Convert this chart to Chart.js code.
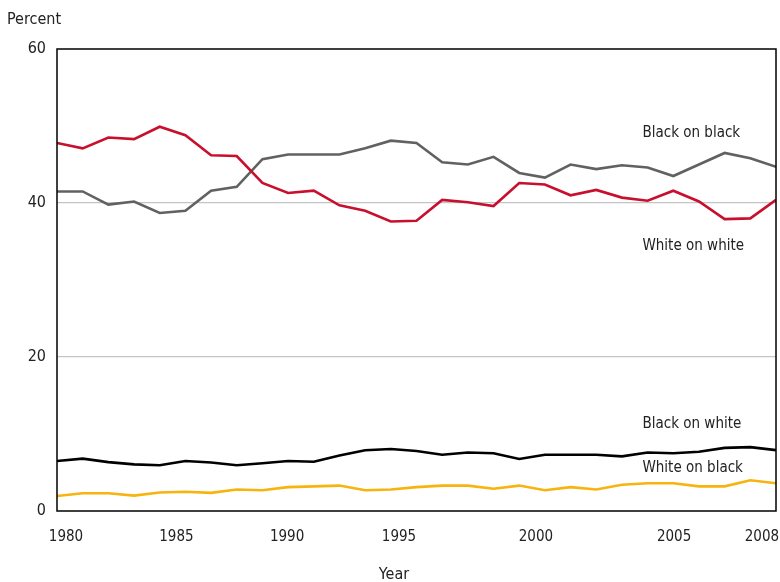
<!DOCTYPE html>
<html lang="en">
<head>
    <meta charset="UTF-8">
    <title>Homicides by race of victim and offender, 1980-2008</title>
    <script src="https://cdn.jsdelivr.net/npm/chart.js"></script>
    <style>
        body {
            margin: 0;
            background: #fff;
        }
        #wrap {
            width: 780px;
            height: 582px;
        }
    </style>
</head>
<body>
<div id="wrap"><canvas id="chart"></canvas></div>

<script>
    // data
    const years = [1980, 1981, 1982, 1983, 1984, 1985, 1986, 1987, 1988, 1989,
                   1990, 1991, 1992, 1993, 1994, 1995, 1996, 1997, 1998, 1999,
                   2000, 2001, 2002, 2003, 2004, 2005, 2006, 2007, 2008];
    const whiteOnWhite = [47.8, 47.1, 48.5, 48.3, 49.9, 48.8, 46.2, 46.1, 42.6, 41.3,
                          41.6, 39.7, 39.0, 37.6, 37.7, 40.4, 40.1, 39.6, 42.6, 42.4,
                          41.0, 41.7, 40.7, 40.3, 41.6, 40.2, 37.9, 38.0, 40.4];
    const blackOnBlack = [41.5, 41.5, 39.8, 40.2, 38.7, 39.0, 41.6, 42.1, 45.7, 46.3,
                          46.3, 46.3, 47.1, 48.1, 47.8, 45.3, 45.0, 46.0, 43.9, 43.3,
                          45.0, 44.4, 44.9, 44.6, 43.5, 45.0, 46.5, 45.8, 44.7];
    const blackOnWhite = [6.5, 6.8, 6.35, 6.05, 5.95, 6.5, 6.3, 5.95, 6.2, 6.5,
                          6.4, 7.2, 7.9, 8.05, 7.8, 7.3, 7.6, 7.5, 6.75, 7.3,
                          7.3, 7.3, 7.1, 7.6, 7.5, 7.7, 8.2, 8.3, 7.9];
    const whiteOnBlack = [1.95, 2.3, 2.3, 2.0, 2.4, 2.5, 2.35, 2.8, 2.7, 3.1,
                          3.2, 3.3, 2.7, 2.8, 3.1, 3.3, 3.3, 2.9, 3.3, 2.7,
                          3.1, 2.8, 3.4, 3.6, 3.6, 3.2, 3.2, 4.0, 3.6];
    const seriesNames = ['White on white', 'Black on black', 'Black on white', 'White on black'];
    const xTickLabels = ['1980', '1985', '1990', '1995', '2000', '2005', '2008'];
    const yTicks = [0, 20, 40, 60];

    // where things sit in the original (labels there are not centred on their year)
    const xTickPos = [1980.35, 1984.65, 1988.96, 1993.32, 1998.65, 2004.03, 2007.45];
    const nameAt = [[2002.8, 34.4], [2002.8, 49.1], [2002.8, 11.3], [2002.8, 5.6]];
    const colors = ['#c8102e', '#616161', '#000000', '#f7b40f'];
    const FONT = '"DejaVu Sans Condensed", "Liberation Sans Narrow", sans-serif';
    const TEXT = '#222';

    function pts(vals) {
        return years.map((yr, i) => ({x: yr, y: vals[i]}));
    }

    const textPlugin = {
        id: 'textPlugin',
        afterDraw(chart) {
            const ctx = chart.ctx;
            const a = chart.chartArea;
            const xs = chart.scales.x, ys = chart.scales.y;
            ctx.save();
            ctx.strokeStyle = '#000';
            ctx.lineWidth = 1.5;
            ctx.strokeRect(a.left, a.top, a.right - a.left, a.bottom - a.top);

            ctx.fillStyle = TEXT;
            ctx.font = '15px ' + FONT;
            ctx.textBaseline = 'middle';
            seriesNames.forEach(function(name, i) {
                ctx.fillText(name, xs.getPixelForValue(nameAt[i][0]), ys.getPixelForValue(nameAt[i][1]));
            });
            ctx.font = '16px ' + FONT;
            ctx.fillText('Percent', 7, 20);
            ctx.textAlign = 'center';
            ctx.fillText('Year', 394, 575);
            ctx.restore();
        }
    };

    const ds = [whiteOnWhite, blackOnBlack, blackOnWhite, whiteOnBlack].map(function(vals, i) {
        return {
            label: seriesNames[i],
            data: pts(vals),
            borderColor: colors[i],
            borderWidth: 2.6,
            pointRadius: 0,
            tension: 0,
            fill: false
        };
    });

    new Chart(document.getElementById('chart'), {
        type: 'line',
        data: {datasets: ds},
        options: {
            responsive: true,
            maintainAspectRatio: false,
            animation: false,
            layout: {padding: {left: 0, top: 49, right: 4, bottom: 0}},
            plugins: {
                legend: {display: false},
                tooltip: {enabled: false}
            },
            scales: {
                x: {
                    type: 'linear',
                    min: 1980,
                    max: 2008,
                    grid: {display: false},
                    border: {display: false},
                    afterBuildTicks: function(scale) {
                        scale.ticks = xTickPos.map(v => ({value: v}));
                    },
                    afterFit: function(scale) {
                        scale.height = 71;
                        scale.paddingLeft = 0;
                        scale.paddingRight = 0;
                    },
                    ticks: {
                        autoSkip: false,
                        maxRotation: 0,
                        padding: 9,
                        color: TEXT,
                        font: {family: FONT, size: 15},
                        callback: function(value, index) {
                            return xTickLabels[index];
                        }
                    }
                },
                y: {
                    min: 0,
                    max: 60,
                    afterBuildTicks: function(scale) {
                        scale.ticks = yTicks.map(v => ({value: v}));
                    },
                    afterFit: function(scale) {
                        scale.width = 57;
                        scale.paddingTop = 0;
                        scale.paddingBottom = 0;
                    },
                    grid: {
                        drawTicks: false,
                        color: ctx => (ctx.tick && (ctx.tick.value === 20 || ctx.tick.value === 40)) ? '#c4c4c4' : 'rgba(0,0,0,0)',
                        lineWidth: 1.2
                    },
                    border: {display: false},
                    ticks: {
                        padding: 11,
                        color: TEXT,
                        font: {family: FONT, size: 16}
                    }
                }
            }
        },
        plugins: [textPlugin]
    });
</script>
</body>
</html>
